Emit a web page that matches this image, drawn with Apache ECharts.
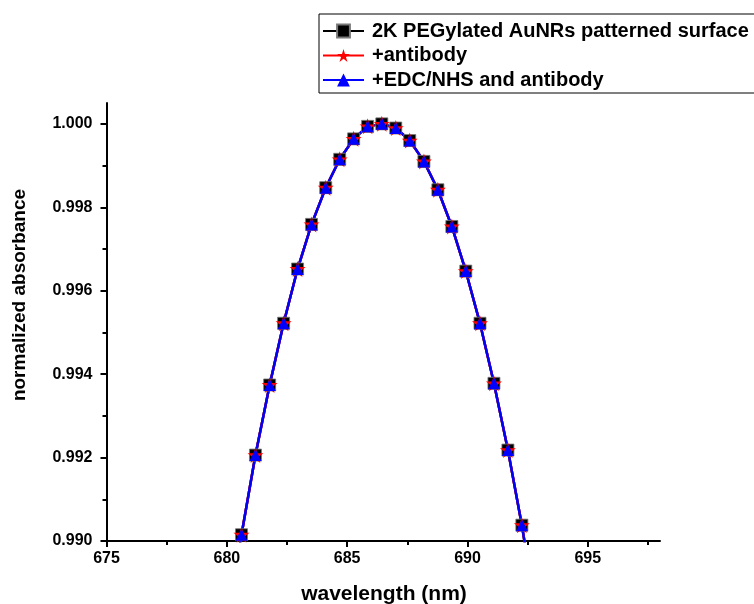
<!DOCTYPE html>
<html><head><meta charset="utf-8">
<script src="https://cdn.jsdelivr.net/npm/echarts@6/dist/echarts.min.js"></script>
<style>html,body{margin:0;padding:0;background:#fff}#c{width:754px;height:604px}</style>
</head><body><div id="c"></div>
<script>
const wavelength = [680.03, 680.61, 681.19, 681.78, 682.36, 682.94, 683.52, 684.11, 684.69, 685.27, 685.85,
  686.44, 687.02, 687.60, 688.19, 688.77, 689.35, 689.93, 690.52, 691.10, 691.68, 692.26, 692.84];
const pegylated = [0.9882, 0.99015, 0.99206, 0.99374, 0.99522, 0.99652, 0.99759, 0.99847, 0.99915, 0.99964, 0.99994,
  1.00000, 0.99990, 0.99960, 0.99910, 0.99842, 0.99754, 0.99647, 0.99522, 0.99378, 0.99218, 0.99038, 0.9883];
const antibody = [0.9882, 0.99015, 0.99206, 0.99374, 0.99522, 0.99652, 0.99759, 0.99847, 0.99915, 0.99964, 0.99994,
  1.00000, 0.99990, 0.99960, 0.99910, 0.99842, 0.99754, 0.99647, 0.99522, 0.99378, 0.99218, 0.99038, 0.9883];
const edcNhsAntibody = [0.9882, 0.99015, 0.99206, 0.99374, 0.99522, 0.99652, 0.99759, 0.99847, 0.99915, 0.99964, 0.99994,
  1.00000, 0.99990, 0.99960, 0.99910, 0.99842, 0.99754, 0.99647, 0.99522, 0.99378, 0.99218, 0.99038, 0.9883];
const seriesNames = ['2K PEGylated AuNRs patterned surface', '+antibody', '+EDC/NHS and antibody'];
const xTickValues = [675, 680, 685, 690, 695];
const xMinorTickValues = [677.5, 682.5, 687.5, 692.5, 697.5];
const yTickValues = [0.990, 0.992, 0.994, 0.996, 0.998, 1.000];
const yMinorTickValues = [0.991, 0.993, 0.995, 0.997, 0.999];
const xTitle = 'wavelength (nm)';
const yTitle = 'normalized absorbance';

const FONT = 'Arial, "Liberation Sans", sans-serif';
const STAR = 'path://M50,0 L61.2,34.5 L97.6,34.5 L68.2,55.9 L79.4,90.5 L50,69.1 L20.6,90.5 L31.8,55.9 L2.4,34.5 L38.8,34.5 Z';
const pairs = v => wavelength.map((x, i) => [x, v[i]]);

const chart = echarts.init(document.getElementById('c'), null, {renderer: 'canvas'});
const axisCommon = {color: '#000', width: 2};
chart.setOption({
  animation: false,
  backgroundColor: '#fff',
  grid: {left: 106.5, right: 94, top: 103, bottom: 63, containLabel: false},
  legend: {
    orient: 'vertical', left: 319, top: 14,
    borderColor: '#000', borderWidth: 1, borderRadius: 0,
    padding: [7, 8, 3, 3], itemGap: 4.5, itemWidth: 41, itemHeight: 16,
    textStyle: {fontFamily: FONT, fontWeight: 'bold', fontSize: 20, color: '#000', lineHeight: 20, padding: [0, 0, 0, 3]},
    data: seriesNames
  },
  xAxis: [{
    type: 'value', min: 675, max: 698,
    axisLine: {lineStyle: axisCommon},
    axisTick: {customValues: xTickValues, length: 6, lineStyle: axisCommon},
    axisLabel: {customValues: xTickValues, margin: 10, fontFamily: FONT, fontWeight: 'bold', fontSize: 16, color: '#000'},
    splitLine: {show: false}
  }, {
    type: 'value', min: 675, max: 698, position: 'bottom',
    axisLine: {show: false},
    axisTick: {customValues: xMinorTickValues, length: 4, lineStyle: axisCommon},
    axisLabel: {show: false},
    splitLine: {show: false}
  }],
  yAxis: [{
    type: 'value', min: 0.990, max: 1.0005,
    axisLine: {lineStyle: axisCommon},
    axisTick: {customValues: yTickValues, length: 6, lineStyle: axisCommon},
    axisLabel: {customValues: yTickValues, margin: 14, formatter: v => v.toFixed(3), fontFamily: FONT, fontWeight: 'bold', fontSize: 16, color: '#000'},
    splitLine: {show: false}
  }, {
    type: 'value', min: 0.990, max: 1.0005, position: 'left',
    axisLine: {show: false},
    axisTick: {customValues: yMinorTickValues, length: 4, lineStyle: axisCommon},
    axisLabel: {show: false},
    splitLine: {show: false}
  }],
  graphic: [{
    type: 'text', x: 384, y: 594,
    style: {text: xTitle, fontFamily: FONT, fontWeight: 'bold', fontSize: 21, fill: '#000', align: 'center', verticalAlign: 'middle'}
  }, {
    type: 'text', x: 20, y: 295, rotation: Math.PI / 2,
    style: {text: yTitle, fontFamily: FONT, fontWeight: 'bold', fontSize: 19, fill: '#000', align: 'center', verticalAlign: 'middle'}
  }],
  series: [{
    name: seriesNames[0], type: 'line', data: pairs(pegylated),
    symbol: 'rect', symbolSize: 12, showAllSymbol: true, clip: true,
    itemStyle: {color: '#000', borderColor: '#777', borderWidth: 0.8},
    lineStyle: {color: '#000', width: 2.5}
  }, {
    name: seriesNames[1], type: 'line', data: pairs(antibody),
    symbol: STAR, symbolSize: 16, showAllSymbol: true, clip: true,
    itemStyle: {color: '#ff0000'},
    lineStyle: {color: '#ff0000', width: 2.5}
  }, {
    name: seriesNames[2], type: 'line', data: pairs(edcNhsAntibody),
    symbol: 'triangle', symbolSize: 12, showAllSymbol: true, clip: true,
    itemStyle: {color: '#0000ff'},
    lineStyle: {color: '#0000ff', width: 2.5}
  }]
});
</script></body></html>
